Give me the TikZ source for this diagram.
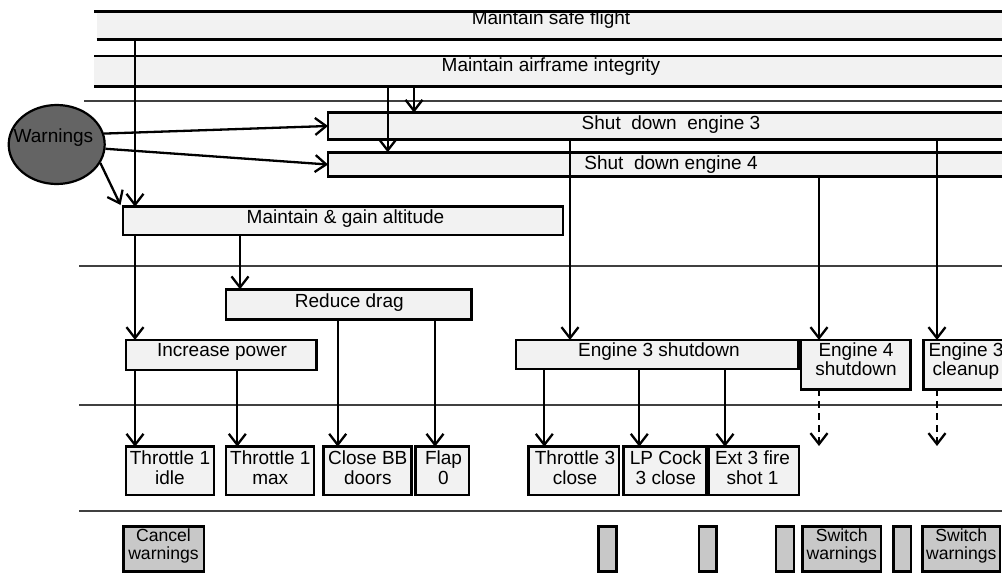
\documentclass[tikz,border=0pt]{standalone}
\usepackage{fontspec}
\setmainfont{Liberation Sans}
\usetikzlibrary{arrows.meta,shapes.geometric}
\definecolor{boxfill}{HTML}{F2F2F2}
\definecolor{gbox}{HTML}{C8C8C8}
\definecolor{sepcol}{HTML}{404040}
\definecolor{ellfill}{HTML}{646464}
\begin{document}
\begin{tikzpicture}[x=1pt,y=-1pt,
  box/.style={draw=black, line width=2.9pt, fill=boxfill, rectangle, inner sep=0pt, outer sep=0pt, anchor=north west},
  gbx/.style={box, fill=gbox},
  bandbox/.style={box, draw=none},
  bandline/.style={line width=2.7pt},
  txt/.style={inner sep=0pt, anchor=base, align=center, font=\fontsize{19}{20}\selectfont},
  stxt/.style={inner sep=0pt, anchor=base, align=center, font=\fontsize{17.6}{17.2}\selectfont},
  arr/.style={line width=2.3pt, -{Straight Barb[length=11pt,width=17pt,line width=2.3pt]}},
  darr/.style={arr, dash pattern=on 7pt off 5pt},
  sepline/.style={draw=sepcol, line width=2.3pt}
]
\useasboundingbox (0,0) rectangle (1002,573);
\clip (0,0) rectangle (1002,573);

% columns
\coordinate (c135) at (135,0);
\coordinate (c237) at (237.3,0);
\coordinate (c240) at (240,0);
\coordinate (c338) at (337.7,0);
\coordinate (c435) at (435,0);
\coordinate (c388) at (387.7,0);
\coordinate (c414) at (414,0);
\coordinate (c570) at (570,0);
\coordinate (c819) at (819,0);
\coordinate (c937) at (937,0);
\coordinate (c544) at (544.3,0);
\coordinate (c639) at (639.3,0);
\coordinate (c725) at (725,0);

% separator lines
\draw[sepline] (84,101) -- (1010,101);
\draw[sepline] (79,266) -- (1010,266);
\draw[sepline] (79,405) -- (1010,405);
\draw[sepline] (79,511) -- (1010,511);

% bands
\node[bandbox, minimum width=913.3, minimum height=28] (sf) at (96.7,11.3) {};
\draw[bandline] (94.3,11.3) -- (sf.north east);
\draw[bandline] (sf.south west) -- (sf.south east);
\node[txt] (sft) at (551,24.5) {Maintain safe flight};
\node[bandbox, minimum width=915.7, minimum height=30.7] (ai) at (94.3,56) {};
\draw[bandline] (ai.north west) -- (ai.north east);
\draw[bandline] (ai.south west) -- (ai.south east);
\node[txt] (ait) at (551,71.7) {Maintain airframe integrity};

% shut down boxes
\node[box, minimum width=682, minimum height=26.6] (sde3) at (328,112.7) {};
\node[txt] (sde3t) at (671,129.3) {Shut\ \ down\ \ engine 3};
\node[box, minimum width=682, minimum height=24.4] (sde4) at (328,152.3) {};
\node[txt] (sde4t) at (671,169.3) {Shut\ \ down engine 4};

% warnings
\node[ellipse, draw=black, line width=2.2pt, fill=ellfill, minimum width=96, minimum height=79, inner sep=0pt] (w) at (56.7,144.5) {};
\node[txt] (wt) at (53.4,142.7) {Warnings};

% level 3
\node[box, minimum width=440, minimum height=28.3] (mga) at (123,206.7) {};
\node[txt] (mgat) at (345.5,223.3) {Maintain \& gain altitude};
\node[box, minimum width=245.7, minimum height=30] (rd) at (226,289.3) {};
\node[txt] (rdt) at (349.3,307.3) {Reduce drag};
\node[box, minimum width=190.7, minimum height=30] (ip) at (126,340) {};
\node[txt] (ipt) at (222,356.7) {Increase power};
\node[box, minimum width=282.3, minimum height=29] (e3s) at (516,340) {};
\node[txt] (e3st) at (659,356.7) {Engine 3 shutdown};
\node[box, minimum width=109.7, minimum height=49.3] (e4s) at (801,340) {};
\node[txt, font=\fontsize{19}{19}\selectfont] (e4st) at (856,375.7) {Engine 4\\shutdown};
\node[box, minimum width=90, minimum height=49.3] (e3c) at (923.3,340) {};
\node[txt, font=\fontsize{19}{19}\selectfont] (e3ct) at (966,375.7) {Engine 3\\cleanup};

% actions
\node[box, minimum width=88, minimum height=48.3] (t1i) at (126,446.7) {};
\node[txt] (t1it) at (170,484) {Throttle 1\\idle};
\node[box, minimum width=88, minimum height=48.3] (t1m) at (226,446.7) {};
\node[txt] (t1mt) at (270.3,484) {Throttle 1\\max};
\node[box, minimum width=88.4, minimum height=48.3] (cbb) at (323.3,446.7) {};
\node[txt] (cbbt) at (367.8,484) {Close BB\\doors};
\node[box, minimum width=53.3, minimum height=48.3] (f0) at (415.7,446.7) {};
\node[txt] (f0t) at (443.5,484) {Flap\\0};
\node[box, minimum width=90.7, minimum height=48.3] (t3c) at (528.3,446.7) {};
\node[txt] (t3ct) at (575,484) {Throttle 3\\close};
\node[box, minimum width=82.7, minimum height=48.3] (lpc) at (623.3,446.7) {};
\node[txt] (lpct) at (665.8,484) {LP Cock\\3 close};
\node[box, minimum width=90.7, minimum height=48.3] (e3f) at (708.3,446.7) {};
\node[txt] (e3ft) at (752.5,484) {Ext 3 fire\\shot 1};

% bottom gray boxes
\node[gbx, minimum width=80.7, minimum height=45] (cw) at (123.3,526.7) {};
\node[stxt] (cwt) at (163.5,559) {Cancel\\warnings};
\node[gbx, minimum width=18.4, minimum height=45] (g1) at (598.3,526.7) {};
\node[gbx, minimum width=17.7, minimum height=45] (g2) at (699,526.7) {};
\node[gbx, minimum width=18, minimum height=45] (g3) at (776,526.7) {};
\node[gbx, minimum width=78.3, minimum height=45] (sw1) at (802.7,526.7) {};
\node[stxt] (sw1t) at (841.8,559) {Switch\\warnings};
\node[gbx, minimum width=17.7, minimum height=45] (g4) at (893.3,526.7) {};
\node[gbx, minimum width=77.3, minimum height=45] (sw2) at (922.7,526.7) {};
\node[stxt] (sw2t) at (961.3,559) {Switch\\warnings};

% connectors
\draw[arr] (sf.south -| c135) -- (mga.north -| c135);
\draw[arr] (mga.south -| c135) -- (ip.north -| c135);
\draw[arr] (ip.south -| c135) -- (t1i.north -| c135);
\draw[arr] (ip.south -| c237) -- (t1m.north -| c237);
\draw[arr] (mga.south -| c240) -- (rd.north -| c240);
\draw[arr] (rd.south -| c338) -- (cbb.north -| c338);
\draw[arr] (rd.south -| c435) -- (f0.north -| c435);
\draw[arr] (ai.south -| c388) -- (sde4.north -| c388);
\draw[arr] (ai.south -| c414) -- (sde3.north -| c414);
\draw[arr] (sde3.south -| c570) -- (e3s.north -| c570);
\draw[arr] (sde4.south -| c819) -- (e4s.north -| c819);
\draw[arr] (sde3.south -| c937) -- (e3c.north -| c937);
\draw[arr] (e3s.south -| c544) -- (t3c.north -| c544);
\draw[arr] (e3s.south -| c639) -- (lpc.north -| c639);
\draw[arr] (e3s.south -| c725) -- (e3f.north -| c725);
\coordinate (d1) at (819,446);
\coordinate (d2) at (937,446);
\draw[darr] (e4s.south -| c819) -- (d1);
\draw[darr] (e3c.south -| c937) -- (d2);
\coordinate (wa) at (120.5,205);
\draw[arr] (w.13) -- (sde3.west);
\draw[arr] (w.-5) -- (sde4.west);
\draw[arr] (w.-23) -- (wa);
\end{tikzpicture}
\end{document}
